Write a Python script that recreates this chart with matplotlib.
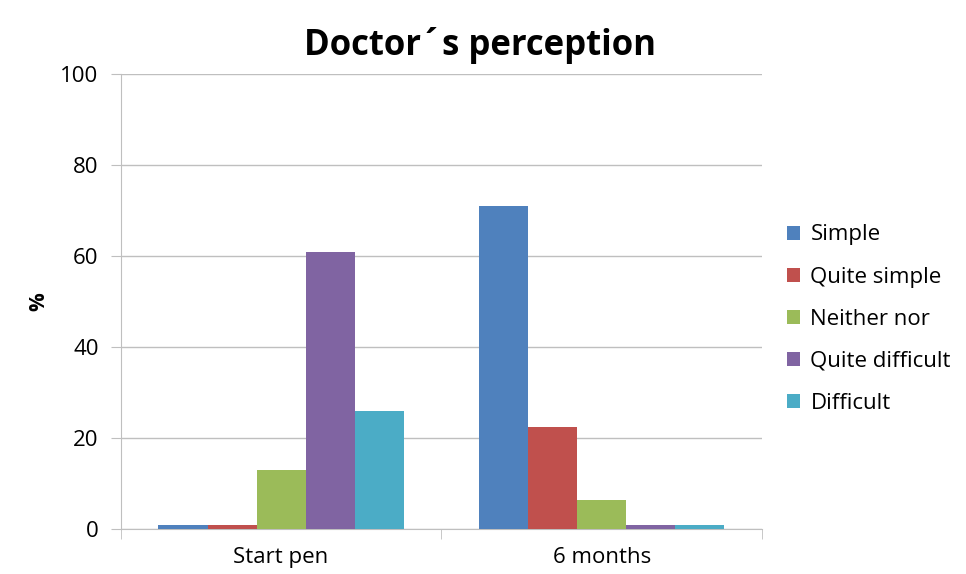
import numpy as np
import matplotlib
matplotlib.use("Agg")
import matplotlib.pyplot as plt
from matplotlib.ticker import FixedLocator

# ── Data ──────────────────────────────────────────────────────────────────────
categories = ["Start pen", "6 months"]
series     = ["Simple", "Quite simple", "Neither nor", "Quite difficult", "Difficult"]
simple          = [1.0, 71.0]
quite_simple    = [1.0, 22.5]
neither_nor     = [13.0, 6.5]
quite_difficult = [61.0, 1.0]
difficult       = [26.0, 1.0]
colors = ["#4F81BD", "#C0504D", "#9BBB59", "#8064A2", "#4BACC6"]

plt.rcParams["font.family"] = ["Open Sans", "DejaVu Sans"]

fig = plt.figure(figsize=(9.66, 5.74), dpi=100)
ax = fig.add_axes([0.125, 0.078, 0.664, 0.793])

values = [simple, quite_simple, neither_nor, quite_difficult, difficult]
x = np.arange(len(categories))
w = 0.153
for i, (name, vals, c) in enumerate(zip(series, values, colors)):
    ax.bar(x + (i - 2) * w, vals, w, color=c, label=name, zorder=3)

ax.set_xlim(-0.5, 1.5)
ax.set_ylim(0, 100)
ax.set_yticks(np.arange(0, 101, 20))
ax.yaxis.grid(True, color="#BFBFBF", lw=1, zorder=0)
ax.set_xticks(x)
ax.set_xticklabels(categories, fontsize=16)
ax.xaxis.set_minor_locator(FixedLocator([-0.5, 0.5, 1.5]))
ax.tick_params(axis="x", which="major", length=0, pad=13)
ax.tick_params(axis="x", which="minor", length=7, color="#BFBFBF", direction="out")
ax.tick_params(axis="y", length=7, color="#BFBFBF", labelsize=16, pad=9)
for s in ["top", "right"]:
    ax.spines[s].set_visible(False)
for s in ["left", "bottom"]:
    ax.spines[s].set_color("#BFBFBF")
ax.set_ylabel("%", fontsize=15, fontweight="bold", labelpad=8)
fig.suptitle("Doctor´s perception", fontsize=25, fontweight="bold", x=0.497, y=0.953)

ax.legend(loc="center left", bbox_to_anchor=(1.025, 0.4615), frameon=False,
          fontsize=16, handlelength=0.6, handleheight=0.6, handletextpad=0.45,
          labelspacing=0.95, borderaxespad=0)

fig.savefig("out.png", dpi=100)
